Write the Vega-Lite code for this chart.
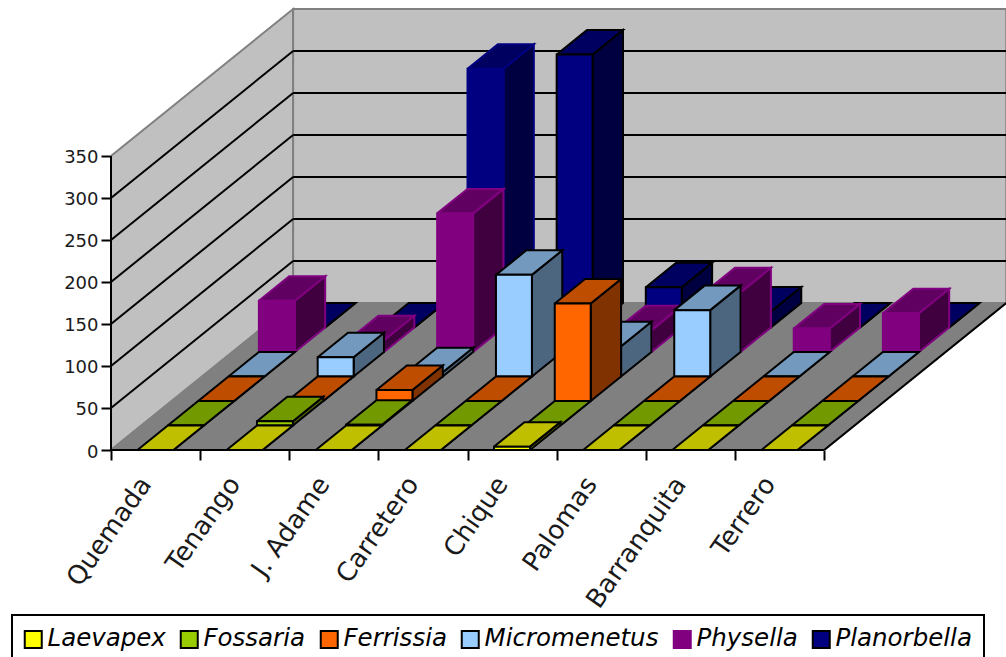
{
  "$schema": "https://vega.github.io/schema/vega-lite/v6.json",
  "width": 895,
  "height": 450,
  "padding": {"left": 111, "top": 0, "right": 0, "bottom": 207},
  "autosize": {"type": "none"},
  "background": "white",
  "params": [
    {"name": "dx", "value": 0.3405},
    {"name": "dy", "value": 29.17},
    {"name": "gap", "value": 0.2969},
    {"name": "barW", "value": 0.4034},
    {"name": "sites", "value": ["Quemada","Tenango","J. Adame","Carretero","Chique","Palomas","Barranquita","Terrero"]},
    {"name": "genera", "value": ["Laevapex","Fossaria","Ferrissia","Micromenetus","Physella","Planorbella"]}
  ],
  "datasets": {
    "counts": [
      {"site":"Quemada","genus":"Planorbella","value":0},
      {"site":"Tenango","genus":"Planorbella","value":0},
      {"site":"J. Adame","genus":"Planorbella","value":308},
      {"site":"Carretero","genus":"Planorbella","value":325},
      {"site":"Chique","genus":"Planorbella","value":48},
      {"site":"Palomas","genus":"Planorbella","value":19},
      {"site":"Barranquita","genus":"Planorbella","value":0},
      {"site":"Terrero","genus":"Planorbella","value":0},
      {"site":"Quemada","genus":"Physella","value":61},
      {"site":"Tenango","genus":"Physella","value":14},
      {"site":"J. Adame","genus":"Physella","value":165},
      {"site":"Carretero","genus":"Physella","value":0},
      {"site":"Chique","genus":"Physella","value":26},
      {"site":"Palomas","genus":"Physella","value":71},
      {"site":"Barranquita","genus":"Physella","value":28},
      {"site":"Terrero","genus":"Physella","value":46},
      {"site":"Quemada","genus":"Micromenetus","value":0},
      {"site":"Tenango","genus":"Micromenetus","value":23},
      {"site":"J. Adame","genus":"Micromenetus","value":5},
      {"site":"Carretero","genus":"Micromenetus","value":121},
      {"site":"Chique","genus":"Micromenetus","value":36},
      {"site":"Palomas","genus":"Micromenetus","value":79},
      {"site":"Barranquita","genus":"Micromenetus","value":0},
      {"site":"Terrero","genus":"Micromenetus","value":0},
      {"site":"Quemada","genus":"Ferrissia","value":0},
      {"site":"Tenango","genus":"Ferrissia","value":0},
      {"site":"J. Adame","genus":"Ferrissia","value":13},
      {"site":"Carretero","genus":"Ferrissia","value":0},
      {"site":"Chique","genus":"Ferrissia","value":116},
      {"site":"Palomas","genus":"Ferrissia","value":0},
      {"site":"Barranquita","genus":"Ferrissia","value":0},
      {"site":"Terrero","genus":"Ferrissia","value":0},
      {"site":"Quemada","genus":"Fossaria","value":0},
      {"site":"Tenango","genus":"Fossaria","value":5},
      {"site":"J. Adame","genus":"Fossaria","value":1},
      {"site":"Carretero","genus":"Fossaria","value":0},
      {"site":"Chique","genus":"Fossaria","value":0},
      {"site":"Palomas","genus":"Fossaria","value":0},
      {"site":"Barranquita","genus":"Fossaria","value":0},
      {"site":"Terrero","genus":"Fossaria","value":0},
      {"site":"Quemada","genus":"Laevapex","value":0},
      {"site":"Tenango","genus":"Laevapex","value":0},
      {"site":"J. Adame","genus":"Laevapex","value":0},
      {"site":"Carretero","genus":"Laevapex","value":0},
      {"site":"Chique","genus":"Laevapex","value":4},
      {"site":"Palomas","genus":"Laevapex","value":0},
      {"site":"Barranquita","genus":"Laevapex","value":0},
      {"site":"Terrero","genus":"Laevapex","value":0}
    ],
    "surfaces": [
      {"surface":"left wall"},
      {"surface":"back wall"}
    ],
    "ground": [{"surface":"floor"}],
    "levels": [{"level":50},{"level":100},{"level":150},{"level":200},{"level":250},{"level":300}],
    "edges": [{"edge":"value axis"},{"edge":"category axis"},{"edge":"floor side"}]
  },
  "layer": [
    {
      "data": {"name": "surfaces"},
      "transform": [
        {"calculate": "datum.surface === 'left wall' ? [{n:0,c:0,d:0,v:0},{n:1,c:0,d:6,v:0},{n:2,c:0,d:6,v:350},{n:3,c:0,d:0,v:350},{n:4,c:0,d:0,v:0}] : [{n:0,c:0,d:6,v:0},{n:1,c:8,d:6,v:0},{n:2,c:8,d:6,v:350},{n:3,c:0,d:6,v:350},{n:4,c:0,d:6,v:0}]", "as": "corner"},
        {"flatten": ["corner"]},
        {"calculate": "datum.corner.c + datum.corner.d * dx", "as": "px"},
        {"calculate": "datum.corner.v + datum.corner.d * dy", "as": "py"},
        {"calculate": "datum.corner.n", "as": "n"}
      ],
      "mark": {"type": "line", "fill": "#c0c0c0", "stroke": "#808080", "strokeWidth": 2},
      "encoding": {
        "x": {"field": "px", "type": "quantitative", "scale": {"domain": [0, 10.04], "nice": false, "zero": false},
          "axis": {"values": [0,1,2,3,4,5,6,7,8], "labels": false, "domain": false, "grid": false, "title": null, "tickColor": "black", "tickWidth": 2, "tickSize": 10}},
        "y": {"field": "py", "type": "quantitative", "scale": {"domain": [0, 535.7], "nice": false, "zero": false},
          "axis": {"values": [0,50,100,150,200,250,300,350], "domain": false, "grid": false, "title": null, "tickColor": "black", "tickWidth": 2, "tickSize": 10, "labelFont": "DejaVu Sans", "labelFontSize": 18, "labelColor": "#1a1a1a", "labelPadding": 3, "labelOffset": 2}},
        "detail": {"field": "surface"},
        "order": {"field": "n", "type": "quantitative"}
      }
    },
    {
      "data": {"name": "levels"},
      "transform": [
        {"calculate": "6 * dx", "as": "xBack"},
        {"calculate": "datum.level + 6 * dy", "as": "yBack"},
        {"calculate": "0", "as": "xFront"}
      ],
      "mark": {"type": "rule", "color": "black", "strokeWidth": 2},
      "encoding": {
        "x": {"field": "xFront", "type": "quantitative"},
        "y": {"field": "level", "type": "quantitative"},
        "x2": {"field": "xBack"},
        "y2": {"field": "yBack"}
      }
    },
    {
      "data": {"name": "levels"},
      "transform": [
        {"calculate": "6 * dx", "as": "xStart"},
        {"calculate": "8 + 6 * dx", "as": "xEnd"},
        {"calculate": "datum.level + 6 * dy", "as": "yBack"}
      ],
      "mark": {"type": "rule", "color": "black", "strokeWidth": 2},
      "encoding": {
        "x": {"field": "xStart", "type": "quantitative"},
        "x2": {"field": "xEnd"},
        "y": {"field": "yBack", "type": "quantitative"}
      }
    },
    {
      "data": {"name": "ground"},
      "transform": [
        {"calculate": "[{n:0,c:0,d:0},{n:1,c:8,d:0},{n:2,c:8,d:6},{n:3,c:0,d:6},{n:4,c:0,d:0}]", "as": "corner"},
        {"flatten": ["corner"]},
        {"calculate": "datum.corner.c + datum.corner.d * dx", "as": "px"},
        {"calculate": "datum.corner.d * dy", "as": "py"},
        {"calculate": "datum.corner.n", "as": "n"}
      ],
      "mark": {"type": "line", "fill": "#808080", "stroke": "#808080", "strokeWidth": 2},
      "encoding": {
        "x": {"field": "px", "type": "quantitative"},
        "y": {"field": "py", "type": "quantitative"},
        "order": {"field": "n", "type": "quantitative"}
      }
    },
    {
      "data": {"name": "counts"},
      "transform": [
        {"calculate": "indexof(sites, datum.site)", "as": "i"},
        {"calculate": "indexof(genera, datum.genus)", "as": "r"},
        {"calculate": "[{f:'side',n:0,u:1,w:0,h:0},{f:'side',n:1,u:1,w:1,h:0},{f:'side',n:2,u:1,w:1,h:1},{f:'side',n:3,u:1,w:0,h:1},{f:'side',n:4,u:1,w:0,h:0},{f:'top',n:0,u:0,w:0,h:1},{f:'top',n:1,u:1,w:0,h:1},{f:'top',n:2,u:1,w:1,h:1},{f:'top',n:3,u:0,w:1,h:1},{f:'top',n:4,u:0,w:0,h:1},{f:'front',n:0,u:0,w:0,h:0},{f:'front',n:1,u:1,w:0,h:0},{f:'front',n:2,u:1,w:0,h:1},{f:'front',n:3,u:0,w:0,h:1},{f:'front',n:4,u:0,w:0,h:0}]", "as": "corner"},
        {"flatten": ["corner"]},
        {"calculate": "datum.i + gap + datum.corner.u * barW + (datum.r + datum.corner.w) * dx", "as": "px"},
        {"calculate": "(datum.r + datum.corner.w) * dy + datum.corner.h * datum.value", "as": "py"},
        {"calculate": "datum.corner.n", "as": "n"},
        {"calculate": "datum.site + '/' + datum.genus + '/' + datum.corner.f", "as": "faceId"},
        {"calculate": "datum.genus + '|' + datum.corner.f", "as": "shade"},
        {"calculate": "datum.genus === 'Physella' ? '#800080' : (datum.genus === 'Planorbella' && datum.site === 'J. Adame' ? '#000080' : 'black')", "as": "edge"}
      ],
      "mark": {"type": "line", "strokeWidth": 2},
      "encoding": {
        "x": {"field": "px", "type": "quantitative"},
        "y": {"field": "py", "type": "quantitative"},
        "detail": {"field": "faceId"},
        "order": {"field": "n", "type": "quantitative"},
        "stroke": {"field": "edge", "type": "nominal", "scale": null},
        "fill": {
          "field": "shade",
          "type": "nominal",
          "scale": {
            "domain": [
              "Laevapex|front","Fossaria|front","Ferrissia|front","Micromenetus|front","Physella|front","Planorbella|front",
              "Laevapex|top","Fossaria|top","Ferrissia|top","Micromenetus|top","Physella|top","Planorbella|top",
              "Laevapex|side","Fossaria|side","Ferrissia|side","Micromenetus|side","Physella|side","Planorbella|side"
            ],
            "range": [
              "#ffff00","#99cc00","#ff6600","#99ccff","#800080","#000080",
              "#bfbf00","#739900","#bf4d00","#7399bf","#600060","#000060",
              "#808000","#4d6600","#803300","#4d6680","#400040","#000040"
            ]
          },
          "legend": {
            "orient": "none",
            "legendX": -99,
            "legendY": 615,
            "direction": "horizontal",
            "columns": 6,
            "title": null,
            "values": ["Laevapex|front","Fossaria|front","Ferrissia|front","Micromenetus|front","Physella|front","Planorbella|front"],
            "labelExpr": "split(datum.label, '|')[0] + (datum.label === 'Planorbella|front' ? '\u00a0\u00a0' : '')",
            "symbolType": "square",
            "symbolSize": 289,
            "symbolOffset": -3,
            "symbolStrokeWidth": 2,
            "symbolOpacity": 1,
            "labelFont": "DejaVu Sans",
            "labelFontStyle": "italic",
            "labelFontSize": 24.5,
            "labelColor": "black",
            "labelOffset": 2,
            "columnPadding": 10,
            "padding": 12,
            "strokeColor": "black",
            "fillColor": "white",
            "labelLimit": 300,
            "encoding": {
              "symbols": {"stroke": {"condition": {"test": "datum.value === 'Physella|front'", "value": "#800080"}, "value": "black"}}
            }
          }
        }
      }
    },
    {
      "data": {"name": "edges"},
      "transform": [
        {"calculate": "datum.edge === 'floor side' ? 8 : 0", "as": "x1"},
        {"calculate": "datum.edge === 'category axis' ? 8 : (datum.edge === 'floor side' ? 8 + 6 * dx : 0)", "as": "x2"},
        {"calculate": "0", "as": "y1"},
        {"calculate": "datum.edge === 'value axis' ? 350 : (datum.edge === 'floor side' ? 6 * dy : 0)", "as": "y2"}
      ],
      "mark": {"type": "rule", "color": "black", "strokeWidth": 2},
      "encoding": {
        "x": {"field": "x1", "type": "quantitative"},
        "x2": {"field": "x2"},
        "y": {"field": "y1", "type": "quantitative"},
        "y2": {"field": "y2"}
      }
    },
    {
      "data": {"name": "counts"},
      "transform": [
        {"filter": "datum.genus === 'Laevapex'"},
        {"calculate": "indexof(sites, datum.site) + 0.5", "as": "tickCenter"},
        {"calculate": "0", "as": "base"}
      ],
      "mark": {"type": "text", "align": "right", "baseline": "middle", "angle": -55, "font": "DejaVu Sans", "fontSize": 26, "color": "#1a1a1a", "dy": 9, "dx": -30},
      "encoding": {
        "x": {"field": "tickCenter", "type": "quantitative"},
        "y": {"field": "base", "type": "quantitative"},
        "text": {"field": "site"}
      }
    }
  ],
  "config": {"view": {"stroke": null}, "legend": {"strokeWidth": 2}}
}
